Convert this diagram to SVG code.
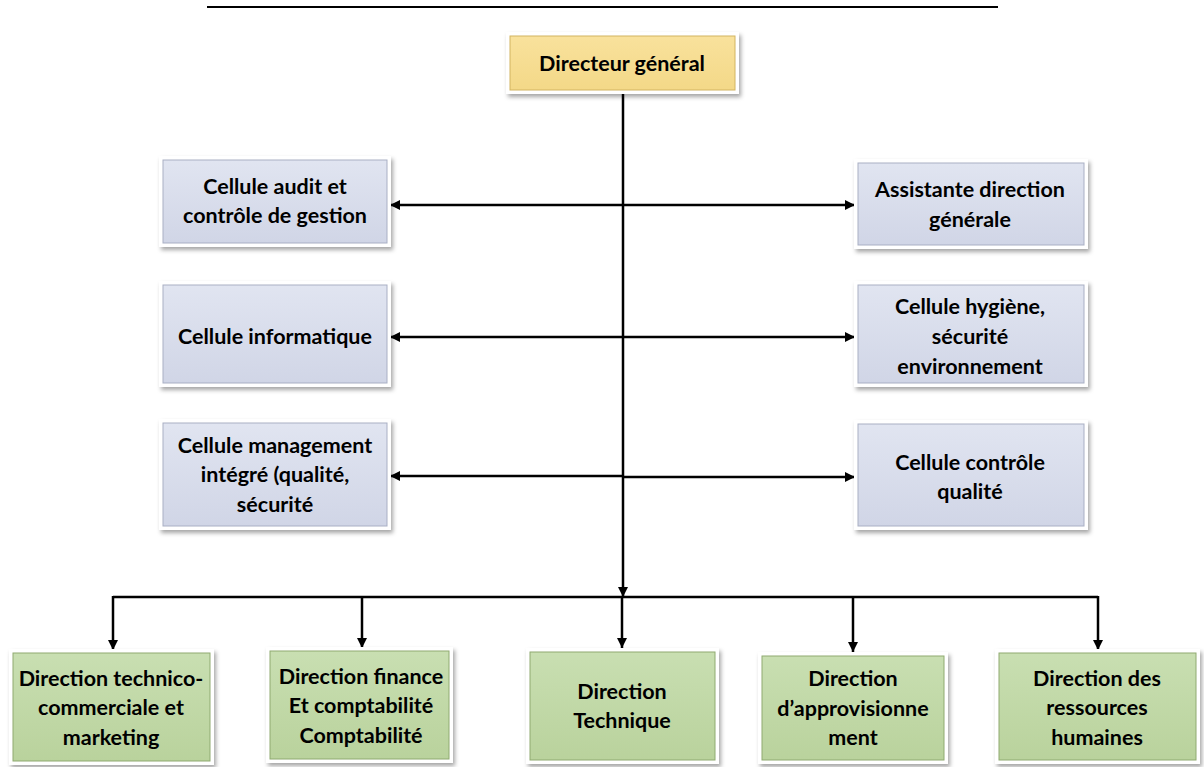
<svg xmlns="http://www.w3.org/2000/svg" width="1204" height="767" viewBox="0 0 1204 767">
  <defs>
    <linearGradient id="gBlue" x1="0" y1="0" x2="0" y2="1">
      <stop offset="0" stop-color="#E1E5F1"/>
      <stop offset="1" stop-color="#D0D5E6"/>
    </linearGradient>
    <linearGradient id="gGreen" x1="0" y1="0" x2="0" y2="1">
      <stop offset="0" stop-color="#C9DFB2"/>
      <stop offset="1" stop-color="#B9D29C"/>
    </linearGradient>
    <linearGradient id="gGold" x1="0" y1="0" x2="0" y2="1">
      <stop offset="0" stop-color="#F9E29D"/>
      <stop offset="1" stop-color="#F3D887"/>
    </linearGradient>
    <filter id="shadow" x="-10%" y="-10%" width="125%" height="130%">
      <feDropShadow dx="2" dy="3" stdDeviation="2" flood-color="#000" flood-opacity="0.35"/>
    </filter>
    <marker id="arr" viewBox="0 0 10 10" refX="10" refY="5" markerWidth="4.4" markerHeight="4" orient="auto-start-reverse" markerUnits="strokeWidth">
      <path d="M0,0 L10,5 L0,10 z" fill="#000"/>
    </marker>
  </defs>
  <style>
    .box { stroke: #FFFFFF; stroke-width: 4; filter: url(#shadow); }
    .inner { fill: none; stroke-width: 1; }
    .blue { fill: url(#gBlue); }
    .green { fill: url(#gGreen); }
    .gold { fill: url(#gGold); }
    text { font-family: Lato, "Liberation Sans", sans-serif; font-weight: bold; font-size: 21.5px; fill: #000; text-anchor: middle; }
    .conn { fill: none; stroke: #000; stroke-width: 2.5; }
  </style>

  <rect width="1204" height="767" fill="#FFFFFF"/>

  <!-- rule across the top -->
  <line x1="207" y1="7" x2="998" y2="7" stroke="#000" stroke-width="2"/>

  <!-- connectors -->
  <g id="connectors">
    <line class="conn" x1="623" y1="92" x2="623" y2="597" marker-end="url(#arr)"/>
    <line class="conn" x1="390" y1="205" x2="855" y2="205" marker-start="url(#arr)" marker-end="url(#arr)"/>
    <line class="conn" x1="390" y1="337" x2="855" y2="337" marker-start="url(#arr)" marker-end="url(#arr)"/>
    <line class="conn" x1="390" y1="476" x2="623" y2="476" marker-start="url(#arr)"/>
    <line class="conn" x1="623" y1="477" x2="855" y2="477" marker-end="url(#arr)"/>
    <line class="conn" x1="113" y1="597" x2="1098" y2="597"/>
    <line class="conn" x1="113" y1="596" x2="113" y2="650" marker-end="url(#arr)"/>
    <line class="conn" x1="362" y1="597" x2="362" y2="648" marker-end="url(#arr)"/>
    <line class="conn" x1="622" y1="597" x2="622" y2="648" marker-end="url(#arr)"/>
    <line class="conn" x1="853" y1="597" x2="853" y2="652" marker-end="url(#arr)"/>
    <line class="conn" x1="1098" y1="596" x2="1098" y2="650" marker-end="url(#arr)"/>
  </g>

  <!-- top -->
  <g id="directeur">
    <rect class="box gold" x="508" y="34" width="229" height="58"/>
    <rect class="inner" x="510" y="36" width="225" height="54" stroke="#D2B460"/>
    <text x="622" y="71" font-size="22.5">Directeur général</text>
  </g>

  <!-- left column -->
  <g id="audit">
    <rect class="box blue" x="161" y="158" width="228" height="87"/>
    <rect class="inner" x="163" y="160" width="224" height="83" stroke="#A9AFC4"/>
    <text x="275" y="194">Cellule audit et</text>
    <text x="275" y="223">contrôle de gestion</text>
  </g>
  <g id="informatique">
    <rect class="box blue" x="161" y="283" width="228" height="102"/>
    <rect class="inner" x="163" y="285" width="224" height="98" stroke="#A9AFC4"/>
    <text x="275" y="344">Cellule informatique</text>
  </g>
  <g id="management">
    <rect class="box blue" x="161" y="421" width="228" height="107"/>
    <rect class="inner" x="163" y="423" width="224" height="103" stroke="#A9AFC4"/>
    <text x="275" y="453">Cellule management</text>
    <text x="275" y="482">intégré (qualité,</text>
    <text x="275" y="512">sécurité</text>
  </g>

  <!-- right column -->
  <g id="assistante">
    <rect class="box blue" x="856" y="161" width="230" height="86"/>
    <rect class="inner" x="858" y="163" width="226" height="82" stroke="#A9AFC4"/>
    <text x="970" y="197">Assistante direction</text>
    <text x="970" y="227">générale</text>
  </g>
  <g id="hygiene">
    <rect class="box blue" x="856" y="283" width="230" height="102"/>
    <rect class="inner" x="858" y="285" width="226" height="98" stroke="#A9AFC4"/>
    <text x="970" y="314">Cellule hygiène,</text>
    <text x="970" y="344">sécurité</text>
    <text x="970" y="374">environnement</text>
  </g>
  <g id="controle">
    <rect class="box blue" x="856" y="422" width="230" height="106"/>
    <rect class="inner" x="858" y="424" width="226" height="102" stroke="#A9AFC4"/>
    <text x="970" y="470">Cellule contrôle</text>
    <text x="970" y="499">qualité</text>
  </g>

  <!-- directions -->
  <g id="technico">
    <rect class="box green" x="11" y="651" width="201" height="112"/>
    <rect class="inner" x="13" y="653" width="197" height="108" stroke="#8FAA71"/>
    <text x="111" y="686">Direction technico-</text>
    <text x="111" y="715">commerciale et</text>
    <text x="111" y="745">marketing</text>
  </g>
  <g id="finance">
    <rect class="box green" x="268" y="649" width="183" height="112"/>
    <rect class="inner" x="270" y="651" width="179" height="108" stroke="#8FAA71"/>
    <text x="361" y="684">Direction finance</text>
    <text x="361" y="713">Et comptabilité</text>
    <text x="361" y="743">Comptabilité</text>
  </g>
  <g id="technique">
    <rect class="box green" x="528" y="650" width="189" height="112"/>
    <rect class="inner" x="530" y="652" width="185" height="108" stroke="#8FAA71"/>
    <text x="622" y="699">Direction</text>
    <text x="622" y="728">Technique</text>
  </g>
  <g id="approvisionnement">
    <rect class="box green" x="760" y="654" width="186" height="108"/>
    <rect class="inner" x="762" y="656" width="182" height="104" stroke="#8FAA71"/>
    <text x="853" y="686">Direction</text>
    <text x="853" y="716">d’approvisionne</text>
    <text x="853" y="745">ment</text>
  </g>
  <g id="rh">
    <rect class="box green" x="997" y="651" width="201" height="111"/>
    <rect class="inner" x="999" y="653" width="197" height="107" stroke="#8FAA71"/>
    <text x="1097" y="686">Direction des</text>
    <text x="1097" y="715">ressources</text>
    <text x="1097" y="745">humaines</text>
  </g>
</svg>
